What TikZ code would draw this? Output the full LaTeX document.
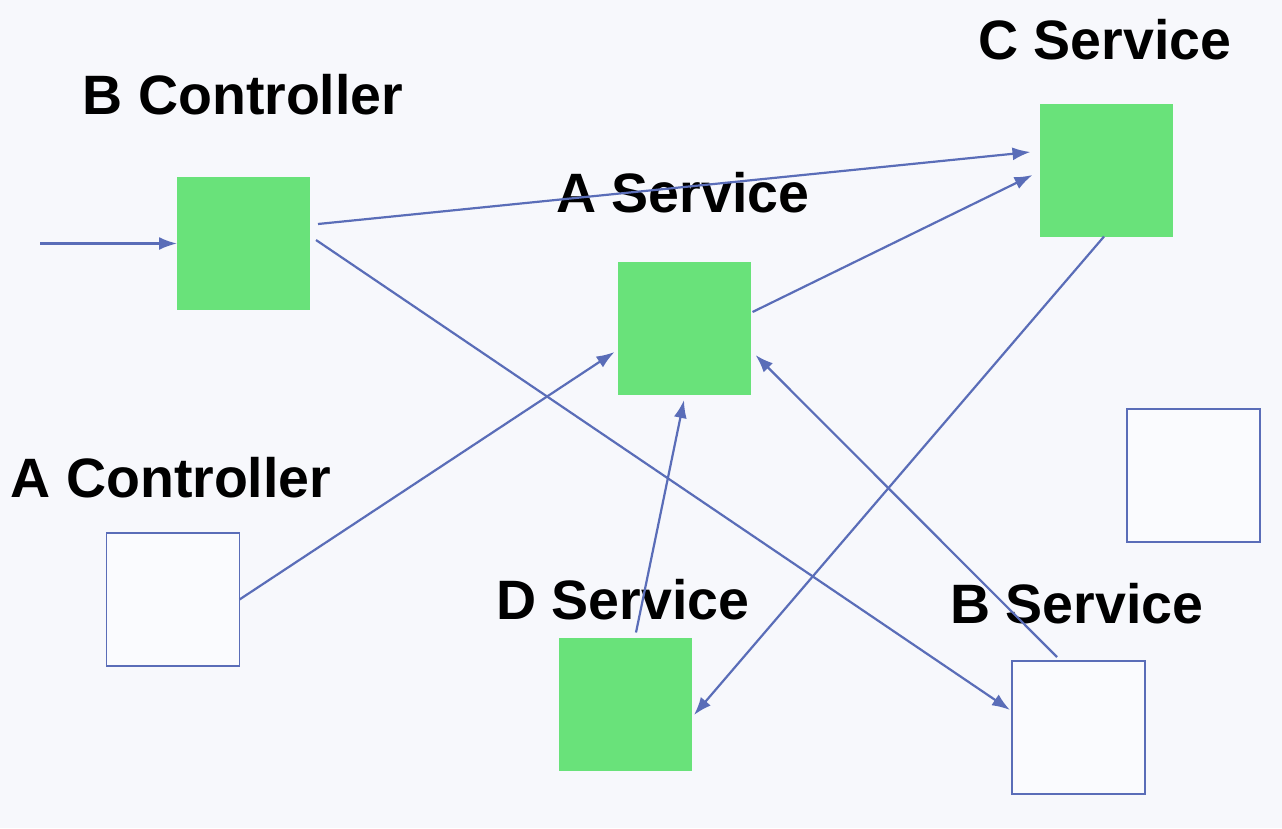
\documentclass[tikz,border=0pt]{standalone}
\usepackage{fontspec}
\setmainfont{Liberation Sans}
\usetikzlibrary{arrows.meta,calc}
\definecolor{bgc}{HTML}{F7F8FC}
\definecolor{grn}{HTML}{69E27A}
\definecolor{edge}{HTML}{5A6DB8}
\definecolor{wbox}{HTML}{FAFBFE}
\begin{document}
\begin{tikzpicture}[x=1pt,y=-1pt,
  gbox/.style={fill=grn,draw=none,minimum width=133pt,minimum height=133pt,inner sep=0pt,outer sep=0pt},
  obox/.style={fill=wbox,draw=edge,line width=1.8pt,minimum width=133pt,minimum height=133pt,inner sep=0pt,outer sep=0pt},
  lbl/.style={font=\fontsize{55.5}{56}\selectfont\bfseries,text=black,inner sep=0pt},
  conn/.style={draw=edge,line width=2.2pt,-{Latex[length=18pt,width=13pt]}}]
\fill[bgc] (0,0) rectangle (1282,828);
\useasboundingbox (0,0) rectangle (1282,828);
% boxes
\node[gbox] (bc) at (243.5,243.5) {};
\node[gbox] (as) at (684,328.5) {};
\node[gbox] (cs) at (1106,170) {};
\node[obox] (ac) at (173,599.5) {};
\node[gbox] (ds) at (625.5,704) {};
\node[obox] (bs) at (1078.5,727.5) {};
\node[obox] (ex) at (1193.5,475.5) {};
% labels
\node[lbl] (lbc) at (243,95) {B Controller};
\node[lbl] (las) at (683,193) {A Service};
\node[lbl] (lcs) at (1105,40) {C Service};
\node[lbl] (lac) at (171,478) {A Controller};
\node[lbl] (lds) at (623,600) {D Service};
\node[lbl] (lbs) at (1077,604) {B Service};
% connectors
\coordinate (in) at (40,243.5);
\draw[conn] (in) -- (bc.west);
\draw[conn] ([shift={(8,-19.5)}]bc.east) -- ([shift={(-9,-18)}]cs.west);
\draw[conn] ([shift={(6,-3.5)}]bc.east) -- ([shift={(-2,-17.5)}]bs.west);
\draw[conn] ([shift={(2,-16.5)}]as.east) -- ([shift={(-7,5)}]cs.west);
\draw[conn] (ac.east) -- ([shift={(-3,23.5)}]as.west);
\draw[conn] ([shift={(10.5,-5)}]ds.north) -- ([shift={(0,5)}]as.south);
\draw[conn] ([shift={(-21.5,-4)}]bs.north) -- ([shift={(5,26.5)}]as.east);
\draw[conn] ([shift={(-2,0)}]cs.south) -- ([shift={(2,11)}]ds.east);
\end{tikzpicture}
\end{document}
